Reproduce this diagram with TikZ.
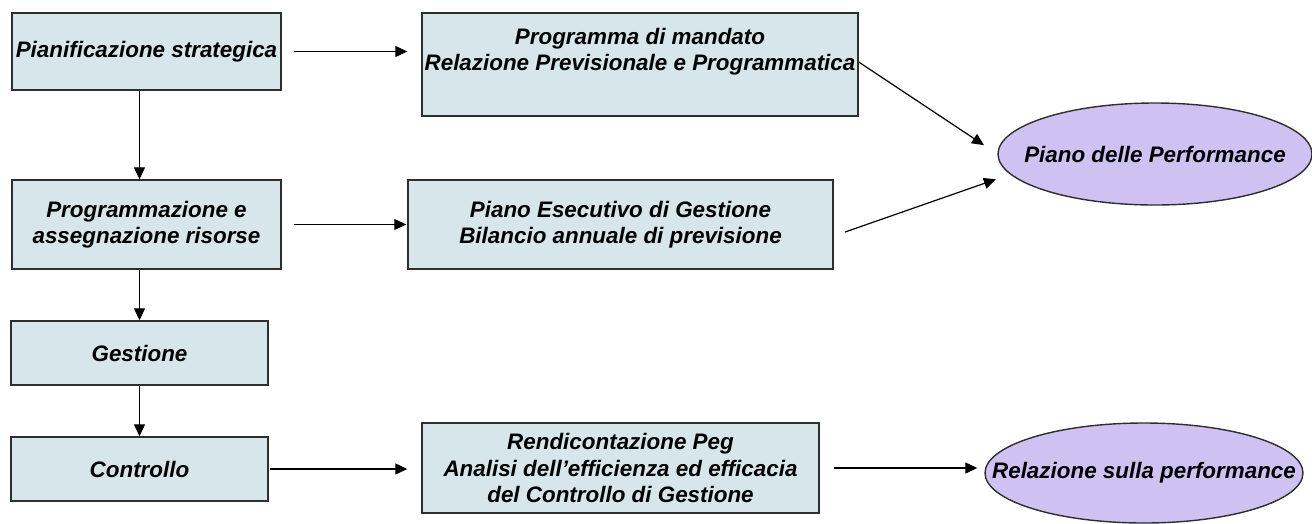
\documentclass[tikz,border=0pt]{standalone}
\usepackage{fontspec}
\setmainfont{Liberation Sans}
\usetikzlibrary{shapes.geometric,arrows.meta}
\definecolor{boxfill}{HTML}{D6E6EA}
\definecolor{ellfill}{HTML}{CFC2F2}
\definecolor{edge}{HTML}{2E2E2E}
\begin{document}
\begin{tikzpicture}[x=1pt,y=-1pt,
  txt/.style={font=\fontsize{22.4}{26.5}\selectfont\bfseries\itshape, align=center},
  box/.style={draw=edge, line width=1.4pt, fill=boxfill, rectangle, inner sep=0pt, txt},
  ell/.style={draw=edge, line width=1.4pt, fill=ellfill, ellipse, inner sep=0pt, txt},
  arr/.style={line width=1.2pt, draw=black, -{Triangle[length=12pt,width=11pt]}}
]
\useasboundingbox (0,0) rectangle (1312,523);
\node[box, minimum width=269pt, minimum height=77pt] (b1) at (146.5,51.5) {Pianificazione strategica};
\node[box, minimum width=269pt, minimum height=89pt] (b2) at (146.5,224.5) {Programmazione e\\assegnazione risorse};
\node[box, minimum width=257pt, minimum height=64pt] (b3) at (139.5,353) {Gestione};
\node[box, minimum width=257pt, minimum height=64pt] (b4) at (139.5,469) {Controllo};
\node[box, minimum width=436pt, minimum height=103pt,
      label={[txt, yshift=13pt]center:Programma di mandato\\Relazione Previsionale e Programmatica}] (b5) at (640,64.5) {};
\node[box, minimum width=425pt, minimum height=89pt] (b6) at (620.5,224.5) {Piano Esecutivo di Gestione\\Bilancio annuale di previsione};
\node[box, minimum width=397pt, minimum height=90pt] (b7) at (620.5,468) {Rendicontazione Peg\\Analisi dell’efficienza ed efficacia\\del Controllo di Gestione};
\node[ell, minimum width=314pt, minimum height=102pt] (e1) at (1155,154) {\makebox[0pt]{Piano delle Performance}};
\node[ell, minimum width=318pt, minimum height=100pt] (e2) at (1144,473) {\makebox[0pt]{Relazione sulla performance}};

\draw[arr] (b3 |- b1.south) -- (b3 |- b2.north);
\draw[arr] (b3 |- b2.south) -- (b3.north);
\draw[arr] (b3.south) -- (b4.north);
\draw[arr, shorten <=12pt, shorten >=14pt] (b1.east) -- (b1.east -| b5.west);
\draw[arr, shorten <=12pt, shorten >=1pt] (b2.east) -- (b6.west);
\draw[arr, shorten <=1pt, shorten >=14pt] (b4.east) -- (b4.east -| b7.west);
\draw[arr, shorten <=14pt, shorten >=7pt] (b7.east) -- (b7.east -| e2.west);
\draw[arr, shorten >=16pt] ([yshift=2.5pt]b5.east) -- (e1.west);
\draw[arr, shorten <=12pt, shorten >=15pt] ([yshift=-11.5pt]b6.east) -- (e1.188);
\end{tikzpicture}
\end{document}
